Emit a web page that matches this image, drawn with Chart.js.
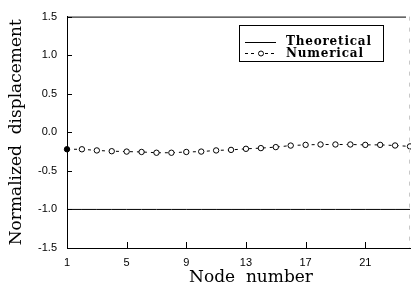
<!DOCTYPE html>
<html>
<head>
<meta charset="utf-8">
<script src="https://cdn.jsdelivr.net/npm/chart.js@4/dist/chart.umd.min.js"></script>
<style>
  html, body { margin: 0; padding: 0; background: #fff; overflow: hidden; }
  #wrap { width: 411px; height: 292px; }
</style>
</head>
<body>
<div id="wrap"><canvas id="chart"></canvas></div>
<script>
const nodes = [1, 2, 3, 4, 5, 6, 7, 8, 9, 10, 11, 12, 13, 14, 15, 16, 17, 18, 19, 20, 21, 22, 23, 24];
const theoretical = [-1.0, -1.0, -1.0, -1.0, -1.0, -1.0, -1.0, -1.0, -1.0, -1.0, -1.0, -1.0,
  -1.0, -1.0, -1.0, -1.0, -1.0, -1.0, -1.0, -1.0, -1.0, -1.0, -1.0, -1.0];
const numerical = [-0.22, -0.22, -0.235, -0.245, -0.25, -0.255, -0.265, -0.265, -0.255, -0.25, -0.235, -0.228,
  -0.214, -0.205, -0.192, -0.172, -0.163, -0.158, -0.158, -0.158, -0.163, -0.163, -0.171, -0.183];
const xTicks = [1, 5, 9, 13, 17, 21];
const yTicks = [-1.5, -1.0, -0.5, 0.0, 0.5, 1.0, 1.5];

// inward ticks, top/right frame, x title and the boxed legend
const framePlugin = {
  id: "frame",
  afterDraw(chart) {
    const { ctx, chartArea: a, scales } = chart;
    ctx.save();
    ctx.strokeStyle = "#000";
    ctx.lineWidth = 1;
    ctx.beginPath();
    xTicks.forEach((v) => {
      const x = Math.round(scales.x.getPixelForValue(v)) + 0.5;
      ctx.moveTo(x, a.bottom);
      ctx.lineTo(x, a.bottom - 6);
    });
    yTicks.forEach((v) => {
      const y = Math.round(scales.y.getPixelForValue(v)) + 0.5;
      ctx.moveTo(a.left, y);
      ctx.lineTo(a.left + 5, y);
    });
    // top border
    ctx.moveTo(a.left, a.top + 0.5);
    ctx.lineTo(a.right - 4, a.top + 0.5);
    ctx.stroke();

    // faint right border
    ctx.strokeStyle = "#c8c8c8";
    ctx.setLineDash([4, 7]);
    ctx.beginPath();
    ctx.moveTo(a.right - 0.5, a.top);
    ctx.lineTo(a.right - 0.5, a.bottom);
    ctx.stroke();
    ctx.setLineDash([]);

    // x axis title
    ctx.fillStyle = "#000";
    ctx.font = "17px 'DejaVu Serif'";
    ctx.textAlign = "center";
    ctx.textBaseline = "middle";
    ctx.fillText(chart.options.scales.x.title.text, 251, 278);

    // legend box
    const bx = 239.5, by = 25.5, bw = 144, bh = 36;
    ctx.strokeStyle = "#000";
    ctx.strokeRect(bx, by, bw, bh);
    const ds = chart.data.datasets;
    ctx.font = "bold 12px 'DejaVu Serif'";
    ctx.letterSpacing = "0.8px";
    ctx.textAlign = "left";
    // theoretical sample
    ctx.beginPath();
    ctx.moveTo(245, 42.5);
    ctx.lineTo(276, 42.5);
    ctx.stroke();
    ctx.fillText(ds[0].label, 286, 42);
    // numerical sample
    ctx.setLineDash([3, 3]);
    ctx.beginPath();
    ctx.moveTo(245, 53.5);
    ctx.lineTo(257, 53.5);
    ctx.moveTo(265, 53.5);
    ctx.lineTo(277, 53.5);
    ctx.stroke();
    ctx.setLineDash([]);
    ctx.beginPath();
    ctx.arc(261, 53.5, 2.5, 0, Math.PI * 2);
    ctx.fillStyle = "#fff";
    ctx.fill();
    ctx.stroke();
    ctx.fillStyle = "#000";
    ctx.fillText(ds[1].label, 286, 54);
    ctx.restore();
  },
};

const ctx = document.getElementById("chart").getContext("2d");
new Chart(ctx, {
  type: "line",
  data: {
    labels: nodes,
    datasets: [
      {
        label: "Theoretical",
        data: nodes.map((n, i) => ({ x: n, y: theoretical[i] })),
        borderColor: "#000",
        borderWidth: 1,
        pointRadius: 0,
        tension: 0,
      },
      {
        label: "Numerical",
        data: nodes.map((n, i) => ({ x: n, y: numerical[i] })),
        borderColor: "#000",
        borderWidth: 1,
        borderDash: [3, 4],
        pointRadius: 2.7,
        pointBorderWidth: 1,
        pointBorderColor: "#000",
        pointBackgroundColor: (c) => (c.dataIndex === 0 ? "#000" : "#fff"),
        tension: 0,
      },
    ],
  },
  options: {
    responsive: true,
    maintainAspectRatio: false,
    animation: false,
    clip: false,
    layout: { autoPadding: false, padding: { left: 0, top: 14, right: 1, bottom: 0 } },
    plugins: {
      legend: { display: false },
      tooltip: { enabled: false },
    },
    scales: {
      x: {
        type: "linear",
        min: 1,
        max: 24,
        afterBuildTicks: (s) => { s.ticks = xTicks.map((v) => ({ value: v })); },
        afterFit: (s) => { s.height = 44; },
        grid: { display: false, drawTicks: false },
        border: { display: true, color: "#000", width: 1 },
        ticks: {
          color: "#000",
          padding: 8,
          maxRotation: 0,
          font: { family: "'Liberation Sans'", size: 11 },
        },
        title: { display: false, text: "Node  number" },
      },
      y: {
        min: -1.5,
        max: 1.5,
        afterBuildTicks: (s) => { s.ticks = yTicks.map((v) => ({ value: v })); },
        afterFit: (s) => { s.width = 67; },
        grid: { display: false, drawTicks: false },
        border: { display: true, color: "#000", width: 1 },
        ticks: {
          color: "#000",
          padding: 10,
          font: { family: "'Liberation Sans'", size: 11 },
          callback: (v) => v.toFixed(1),
        },
        title: {
          display: true,
          text: "Normalized  displacement",
          color: "#000",
          padding: { top: 6, bottom: 0 },
          font: { family: "'DejaVu Serif'", size: 17 },
        },
      },
    },
  },
  plugins: [framePlugin],
});
</script>
</body>
</html>
